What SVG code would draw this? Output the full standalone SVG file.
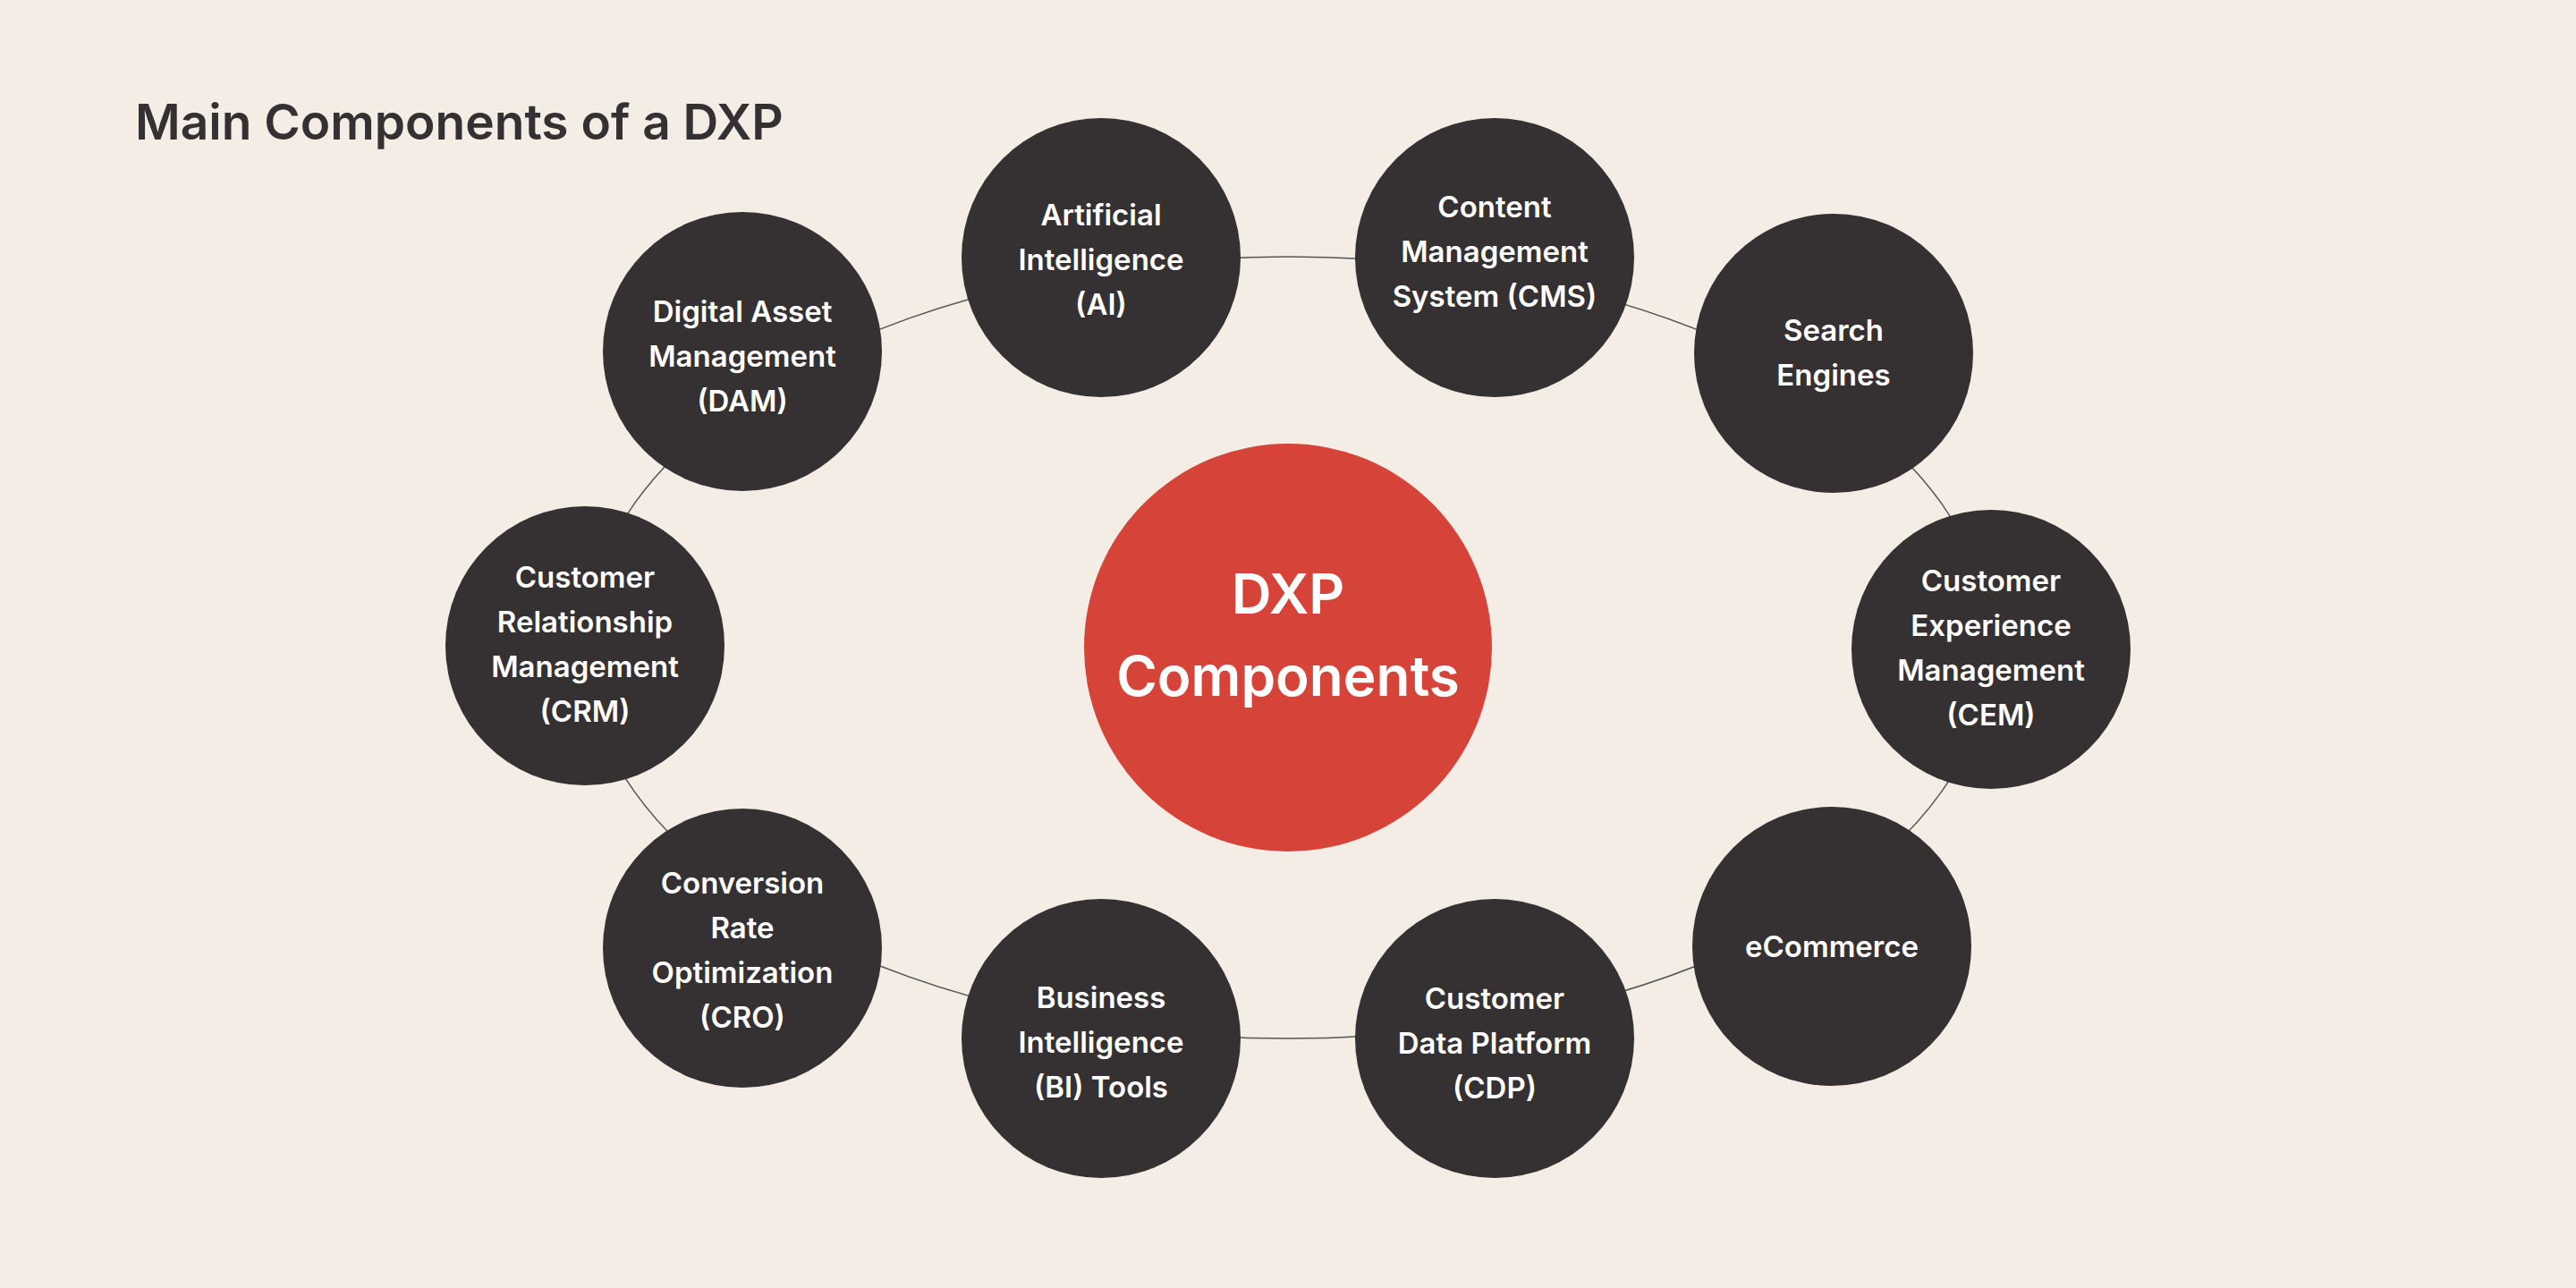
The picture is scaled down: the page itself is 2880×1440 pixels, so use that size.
<svg xmlns="http://www.w3.org/2000/svg" width="2880" height="1440" viewBox="0 0 2880 1440">
<style>
.n{fill:#353132}
.t{fill:#fff;font-family:Inter,"Liberation Sans",sans-serif;font-weight:600;font-size:33px;text-anchor:middle}
.c{fill:#fff;font-family:Inter,"Liberation Sans",sans-serif;font-weight:600;font-size:62px;text-anchor:middle}
</style>
<rect width="2880" height="1440" fill="#f3ede6"/>
<text x="151" y="156" font-family="Inter,'Liberation Sans',sans-serif" font-weight="600" font-size="55" fill="#353132">Main Components of a DXP</text>
<g id="connectors"><ellipse cx="1440" cy="724" rx="786" ry="437" fill="none" stroke="#555" stroke-width="1.5"/></g>
<g id="center"><circle cx="1440" cy="724" r="228" fill="#d64339"/><text class="c" x="1440" y="686">DXP</text><text class="c" x="1440" y="778">Components</text></g>
<g id="ai"><circle class="n" cx="1231" cy="288" r="156"/><text class="t" x="1231" y="252">Artificial</text><text class="t" x="1231" y="302">Intelligence</text><text class="t" x="1231" y="352">(AI)</text></g>
<g id="cms"><circle class="n" cx="1671" cy="288" r="156"/><text class="t" x="1671" y="243">Content</text><text class="t" x="1671" y="293">Management</text><text class="t" x="1671" y="343">System (CMS)</text></g>
<g id="search"><circle class="n" cx="2050" cy="395" r="156"/><text class="t" x="2050" y="381">Search</text><text class="t" x="2050" y="431">Engines</text></g>
<g id="cem"><circle class="n" cx="2226" cy="726" r="156"/><text class="t" x="2226" y="661">Customer</text><text class="t" x="2226" y="711">Experience</text><text class="t" x="2226" y="761">Management</text><text class="t" x="2226" y="811">(CEM)</text></g>
<g id="ecom"><circle class="n" cx="2048" cy="1058" r="156"/><text class="t" x="2048" y="1070">eCommerce</text></g>
<g id="cdp"><circle class="n" cx="1671" cy="1161" r="156"/><text class="t" x="1671" y="1128">Customer</text><text class="t" x="1671" y="1178">Data Platform</text><text class="t" x="1671" y="1228">(CDP)</text></g>
<g id="bi"><circle class="n" cx="1231" cy="1161" r="156"/><text class="t" x="1231" y="1127">Business</text><text class="t" x="1231" y="1177">Intelligence</text><text class="t" x="1231" y="1227">(BI) Tools</text></g>
<g id="cro"><circle class="n" cx="830" cy="1060" r="156"/><text class="t" x="830" y="999">Conversion</text><text class="t" x="830" y="1049">Rate</text><text class="t" x="830" y="1099">Optimization</text><text class="t" x="830" y="1149">(CRO)</text></g>
<g id="crm"><circle class="n" cx="654" cy="722" r="156"/><text class="t" x="654" y="657">Customer</text><text class="t" x="654" y="707">Relationship</text><text class="t" x="654" y="757">Management</text><text class="t" x="654" y="807">(CRM)</text></g>
<g id="dam"><circle class="n" cx="830" cy="393" r="156"/><text class="t" x="830" y="360">Digital Asset</text><text class="t" x="830" y="410">Management</text><text class="t" x="830" y="460">(DAM)</text></g>
</svg>
